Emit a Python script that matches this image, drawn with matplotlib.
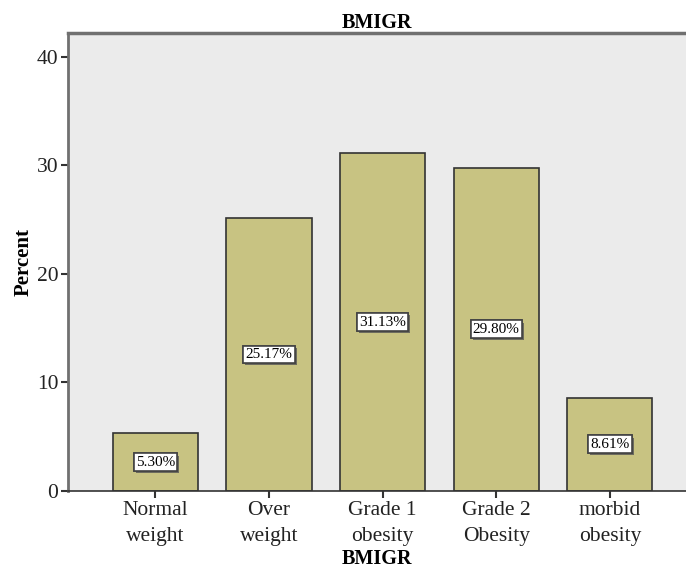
import matplotlib
matplotlib.use("Agg")
from matplotlib import pyplot as plt
import matplotlib.patheffects as pe

categories = ["Normal\nweight", "Over\nweight", "Grade 1\nobesity", "Grade 2\nObesity", "morbid\nobesity"]
percents = [5.30, 25.17, 31.13, 29.80, 8.61]
y_ticks = [0, 10, 20, 30, 40]

plt.rcParams['font.family'] = ['Liberation Serif', 'DejaVu Serif']

fig = plt.figure(figsize=(6.86, 5.68), dpi=100)
ax = fig.add_axes([0.0991, 0.1356, 0.9009, 0.8063])
ax.set_facecolor("#EBEBEB")

x = list(range(len(categories)))
ax.bar(x, percents, width=0.75, color="#C8C382", edgecolor="#333333", linewidth=1.2, zorder=2)

# labels in the middle of each bar
for xi, p in zip(x, percents):
    t = ax.text(xi, p / 2, f"{p:.2f}%", ha="center", va="center", fontsize=11, zorder=4,
                bbox=dict(boxstyle="square,pad=0.15", facecolor="white", edgecolor="#444444", linewidth=1.2))
    t.get_bbox_patch().set_path_effects([pe.withSimplePatchShadow(offset=(1.5, -1.5), shadow_rgbFace="#555555", alpha=0.8),
                                         pe.Normal()])

ax.set_xlim(-0.77, 4.67)
ax.set_ylim(0, 42.2)
ax.set_xticks(x)
ax.set_xticklabels(categories, fontsize=15.5, linespacing=1.55)
ax.set_yticks(y_ticks)
ax.set_yticklabels([str(v) for v in y_ticks], fontsize=15.5)
ax.tick_params(axis="both", direction="out", length=5, width=1.5, colors="#333333", labelcolor="#222222", pad=2)

ax.spines["right"].set_visible(False)
ax.spines["left"].set_color("#707070")
ax.spines["left"].set_linewidth(2)
ax.spines["top"].set_color("#707070")
ax.spines["top"].set_linewidth(2.5)
ax.spines["bottom"].set_color("#333333")
ax.spines["bottom"].set_linewidth(1.2)

ax.set_title("BMIGR", fontsize=14.5, fontweight="bold", pad=3)
ax.set_xlabel("BMIGR", fontsize=14.5, fontweight="bold", labelpad=2)
ax.set_ylabel("Percent", fontsize=15, fontweight="bold", labelpad=2)

fig.savefig("out.png", dpi=100)
